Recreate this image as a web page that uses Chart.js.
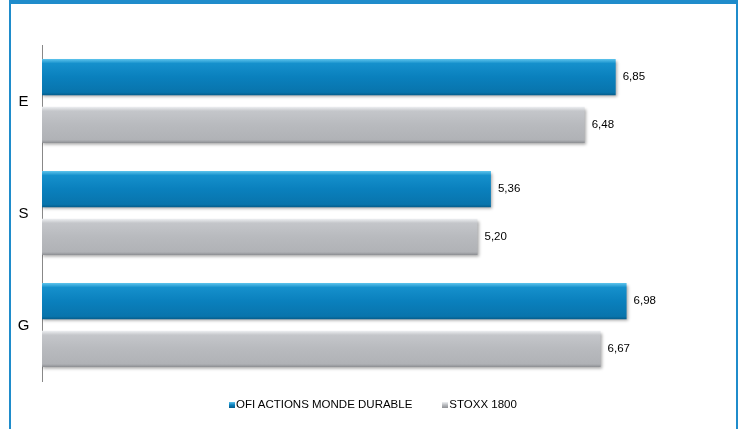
<!DOCTYPE html>
<html>
<head>
<meta charset="utf-8">
<script src="https://cdn.jsdelivr.net/npm/chart.js@4"></script>
<style>
  html, body { margin: 0; padding: 0; background: #fff; }
  #wrap { position: relative; width: 745px; height: 429px; overflow: hidden; font-family: Arial, "Liberation Sans", sans-serif; }
  #frame { position: absolute; left: 9px; top: 0; width: 729px; height: 440px; border: 2px solid #1f8ccb; border-top-width: 4px; box-sizing: border-box; }
  #chart { position: absolute; left: 0; top: 0; }
  #legend { position: absolute; top: 398px; left: 229px; font-size: 11.5px; color: #000; white-space: nowrap; }
  #legend span.item { display: inline-block; margin-right: 30px; }
  #legend i { display: inline-block; width: 6px; height: 6px; vertical-align: 0px; margin-right: 1px; }
</style>
</head>
<body>
<div id="wrap">
  <div id="frame"></div>
  <canvas id="chart" width="745" height="429"></canvas>
  <div id="legend"></div>
</div>
<script>
// categories and series
const categories = ['E', 'S', 'G'];
const seriesNames = ['OFI ACTIONS MONDE DURABLE', 'STOXX 1800'];
const fundValues = [6.85, 5.36, 6.98];
const indexValues = [6.48, 5.20, 6.67];

const CAT_PCT = 0.85;
const BAR_PCT = 0.76;

const gradientStops = [
    [[0, '#5cc3ec'], [0.12, '#1590cc'], [0.5, '#0a80bd'], [0.92, '#0874ac'], [1, '#055c8a']],
    [[0, '#eef0f2'], [0.12, '#c4c6ca'], [0.5, '#b8babe'], [0.92, '#b0b2b6'], [1, '#8d8f93']]
];

// vertical gradient per bar, worked out from the y scale
function barGradient(context) {
    const chart = context.chart;
    const yScale = chart.scales.y;
    const stops = gradientStops[context.datasetIndex];
    if (!yScale || context.dataIndex === undefined) return stops[2][1];
    const band = yScale.height / categories.length;
    const slot = band * CAT_PCT / 2;
    const center = yScale.getPixelForValue(context.dataIndex) - band * CAT_PCT / 2 + slot * (context.datasetIndex + 0.5);
    const half = slot * BAR_PCT / 2;
    if (!Number.isFinite(center) || !Number.isFinite(half) || half <= 0) return stops[2][1];
    const g = chart.ctx.createLinearGradient(0, center - half, 0, center + half);
    stops.forEach(s => g.addColorStop(s[0], s[1]));
    return g;
}

const barShadow = {
    id: 'barShadow',
    beforeDatasetDraw(chart) {
        const ctx = chart.ctx;
        ctx.save();
        ctx.shadowColor = 'rgba(0,0,0,0.35)';
        ctx.shadowBlur = 3;
        ctx.shadowOffsetX = 1;
        ctx.shadowOffsetY = 2;
    },
    afterDatasetDraw(chart) {
        chart.ctx.restore();
    }
};

// value labels at bar ends and category labels left of the axis
const labelsPlugin = {
    id: 'labelsPlugin',
    afterDatasetsDraw(chart) {
        const ctx = chart.ctx;
        ctx.save();
        ctx.fillStyle = '#000';
        ctx.font = '11.5px Arial, "Liberation Sans", sans-serif';
        ctx.textBaseline = 'middle';
        ctx.textAlign = 'left';
        chart.data.datasets.forEach((ds, i) => {
            chart.getDatasetMeta(i).data.forEach((bar, j) => {
                ctx.fillText(ds.data[j].toFixed(2).replace('.', ','), bar.x + 7, bar.y);
            });
        });
        ctx.font = '15px Arial, "Liberation Sans", sans-serif';
        ctx.textAlign = 'center';
        const yScale = chart.scales.y;
        categories.forEach((c, j) => {
            ctx.fillText(c, 23.5, yScale.getPixelForValue(j) + 1);
        });
        ctx.restore();
    }
};

const chart = new Chart(document.getElementById('chart'), {
    type: 'bar',
    data: {
        labels: categories,
        datasets: [
            { label: seriesNames[0], data: fundValues, backgroundColor: barGradient },
            { label: seriesNames[1], data: indexValues, backgroundColor: barGradient }
        ]
    },
    options: {
        indexAxis: 'y',
        responsive: false,
        animation: false,
        devicePixelRatio: 1,
        categoryPercentage: CAT_PCT,
        barPercentage: BAR_PCT,
        layout: { padding: { left: 42, top: 45, right: 33, bottom: 48 } },
        scales: {
            x: { display: false, min: 0, max: 8 },
            y: {
                display: true,
                grid: { display: false, drawTicks: false },
                ticks: { display: false },
                border: { display: true, color: '#888', width: 1 }
            }
        },
        plugins: {
            legend: { display: false },
            tooltip: { enabled: false }
        }
    },
    plugins: [barShadow, labelsPlugin]
});

// html legend
const legend = document.getElementById('legend');
const swatches = ['linear-gradient(#5cc3ec, #0a80bd 50%, #055c8a)', 'linear-gradient(#eef0f2, #b8babe 50%, #8d8f93)'];
seriesNames.forEach((name, i) => {
    const item = document.createElement('span');
    item.className = 'item';
    item.innerHTML = `<i style="background:${swatches[i]}"></i>${name}`;
    legend.appendChild(item);
});
</script>
</body>
</html>
